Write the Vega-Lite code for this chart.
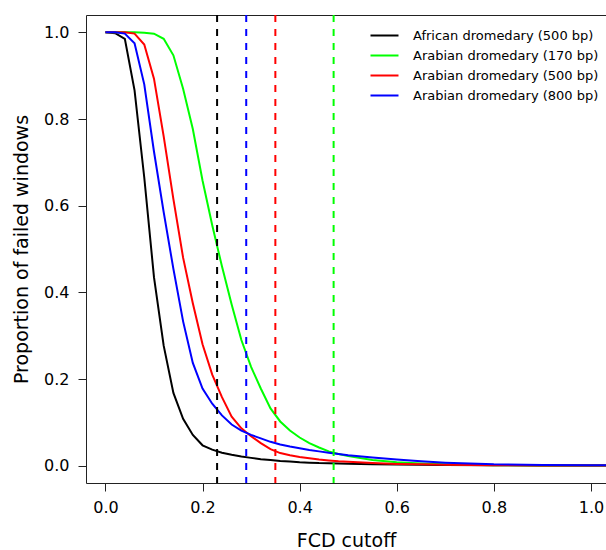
{
  "$schema": "https://vega.github.io/schema/vega-lite/v6.json",
  "autosize": {"type": "none"},
  "width": 520,
  "height": 468,
  "padding": {"left": 86, "top": 15, "right": 0, "bottom": 67},
  "config": {
    "font": "DejaVu Sans",
    "view": {"stroke": null},
    "axis": {"grid": false, "domainColor": "#222", "tickColor": "#222", "labelColor": "#000", "titleColor": "#000", "domainWidth": 1, "tickWidth": 1, "titleFontWeight": "normal", "labelFontSize": 16, "titleFontSize": 19, "tickSize": 8}
  },
  "datasets": {
    "curves": [
      {"x":0,"y":1,"series":"African dromedary (500 bp)"},
      {"x":0.02,"y":0.998,"series":"African dromedary (500 bp)"},
      {"x":0.04,"y":0.985,"series":"African dromedary (500 bp)"},
      {"x":0.06,"y":0.866,"series":"African dromedary (500 bp)"},
      {"x":0.08,"y":0.665,"series":"African dromedary (500 bp)"},
      {"x":0.10,"y":0.435,"series":"African dromedary (500 bp)"},
      {"x":0.12,"y":0.277,"series":"African dromedary (500 bp)"},
      {"x":0.14,"y":0.168,"series":"African dromedary (500 bp)"},
      {"x":0.16,"y":0.108,"series":"African dromedary (500 bp)"},
      {"x":0.18,"y":0.071,"series":"African dromedary (500 bp)"},
      {"x":0.20,"y":0.047,"series":"African dromedary (500 bp)"},
      {"x":0.22,"y":0.037,"series":"African dromedary (500 bp)"},
      {"x":0.24,"y":0.030,"series":"African dromedary (500 bp)"},
      {"x":0.26,"y":0.025,"series":"African dromedary (500 bp)"},
      {"x":0.28,"y":0.021,"series":"African dromedary (500 bp)"},
      {"x":0.30,"y":0.018,"series":"African dromedary (500 bp)"},
      {"x":0.32,"y":0.015,"series":"African dromedary (500 bp)"},
      {"x":0.34,"y":0.013,"series":"African dromedary (500 bp)"},
      {"x":0.36,"y":0.011,"series":"African dromedary (500 bp)"},
      {"x":0.38,"y":0.0095,"series":"African dromedary (500 bp)"},
      {"x":0.40,"y":0.008,"series":"African dromedary (500 bp)"},
      {"x":0.42,"y":0.007,"series":"African dromedary (500 bp)"},
      {"x":0.44,"y":0.006,"series":"African dromedary (500 bp)"},
      {"x":0.46,"y":0.0055,"series":"African dromedary (500 bp)"},
      {"x":0.48,"y":0.005,"series":"African dromedary (500 bp)"},
      {"x":0.50,"y":0.0045,"series":"African dromedary (500 bp)"},
      {"x":0.55,"y":0.0035,"series":"African dromedary (500 bp)"},
      {"x":0.60,"y":0.0025,"series":"African dromedary (500 bp)"},
      {"x":0.65,"y":0.002,"series":"African dromedary (500 bp)"},
      {"x":0.70,"y":0.0015,"series":"African dromedary (500 bp)"},
      {"x":0.80,"y":0.001,"series":"African dromedary (500 bp)"},
      {"x":0.90,"y":0.0005,"series":"African dromedary (500 bp)"},
      {"x":1.00,"y":0.0003,"series":"African dromedary (500 bp)"},
      {"x":1.04,"y":0.0003,"series":"African dromedary (500 bp)"},

      {"x":0,"y":1,"series":"Arabian dromedary (170 bp)"},
      {"x":0.02,"y":1,"series":"Arabian dromedary (170 bp)"},
      {"x":0.04,"y":1,"series":"Arabian dromedary (170 bp)"},
      {"x":0.06,"y":1,"series":"Arabian dromedary (170 bp)"},
      {"x":0.08,"y":0.999,"series":"Arabian dromedary (170 bp)"},
      {"x":0.10,"y":0.997,"series":"Arabian dromedary (170 bp)"},
      {"x":0.12,"y":0.985,"series":"Arabian dromedary (170 bp)"},
      {"x":0.14,"y":0.947,"series":"Arabian dromedary (170 bp)"},
      {"x":0.16,"y":0.87,"series":"Arabian dromedary (170 bp)"},
      {"x":0.18,"y":0.777,"series":"Arabian dromedary (170 bp)"},
      {"x":0.20,"y":0.658,"series":"Arabian dromedary (170 bp)"},
      {"x":0.22,"y":0.555,"series":"Arabian dromedary (170 bp)"},
      {"x":0.24,"y":0.46,"series":"Arabian dromedary (170 bp)"},
      {"x":0.26,"y":0.372,"series":"Arabian dromedary (170 bp)"},
      {"x":0.28,"y":0.29,"series":"Arabian dromedary (170 bp)"},
      {"x":0.30,"y":0.228,"series":"Arabian dromedary (170 bp)"},
      {"x":0.32,"y":0.178,"series":"Arabian dromedary (170 bp)"},
      {"x":0.34,"y":0.132,"series":"Arabian dromedary (170 bp)"},
      {"x":0.36,"y":0.102,"series":"Arabian dromedary (170 bp)"},
      {"x":0.38,"y":0.081,"series":"Arabian dromedary (170 bp)"},
      {"x":0.40,"y":0.065,"series":"Arabian dromedary (170 bp)"},
      {"x":0.42,"y":0.052,"series":"Arabian dromedary (170 bp)"},
      {"x":0.44,"y":0.042,"series":"Arabian dromedary (170 bp)"},
      {"x":0.46,"y":0.033,"series":"Arabian dromedary (170 bp)"},
      {"x":0.48,"y":0.027,"series":"Arabian dromedary (170 bp)"},
      {"x":0.50,"y":0.022,"series":"Arabian dromedary (170 bp)"},
      {"x":0.55,"y":0.013,"series":"Arabian dromedary (170 bp)"},
      {"x":0.60,"y":0.008,"series":"Arabian dromedary (170 bp)"},
      {"x":0.65,"y":0.005,"series":"Arabian dromedary (170 bp)"},
      {"x":0.70,"y":0.003,"series":"Arabian dromedary (170 bp)"},
      {"x":0.80,"y":0.001,"series":"Arabian dromedary (170 bp)"},
      {"x":0.90,"y":0.0005,"series":"Arabian dromedary (170 bp)"},
      {"x":1.00,"y":0.0002,"series":"Arabian dromedary (170 bp)"},
      {"x":1.04,"y":0.0002,"series":"Arabian dromedary (170 bp)"},

      {"x":0,"y":1,"series":"Arabian dromedary (500 bp)"},
      {"x":0.02,"y":1,"series":"Arabian dromedary (500 bp)"},
      {"x":0.04,"y":1,"series":"Arabian dromedary (500 bp)"},
      {"x":0.06,"y":0.997,"series":"Arabian dromedary (500 bp)"},
      {"x":0.08,"y":0.972,"series":"Arabian dromedary (500 bp)"},
      {"x":0.10,"y":0.893,"series":"Arabian dromedary (500 bp)"},
      {"x":0.12,"y":0.76,"series":"Arabian dromedary (500 bp)"},
      {"x":0.14,"y":0.615,"series":"Arabian dromedary (500 bp)"},
      {"x":0.16,"y":0.48,"series":"Arabian dromedary (500 bp)"},
      {"x":0.18,"y":0.375,"series":"Arabian dromedary (500 bp)"},
      {"x":0.20,"y":0.28,"series":"Arabian dromedary (500 bp)"},
      {"x":0.22,"y":0.21,"series":"Arabian dromedary (500 bp)"},
      {"x":0.24,"y":0.158,"series":"Arabian dromedary (500 bp)"},
      {"x":0.26,"y":0.113,"series":"Arabian dromedary (500 bp)"},
      {"x":0.28,"y":0.086,"series":"Arabian dromedary (500 bp)"},
      {"x":0.30,"y":0.068,"series":"Arabian dromedary (500 bp)"},
      {"x":0.32,"y":0.052,"series":"Arabian dromedary (500 bp)"},
      {"x":0.34,"y":0.038,"series":"Arabian dromedary (500 bp)"},
      {"x":0.36,"y":0.029,"series":"Arabian dromedary (500 bp)"},
      {"x":0.38,"y":0.024,"series":"Arabian dromedary (500 bp)"},
      {"x":0.40,"y":0.020,"series":"Arabian dromedary (500 bp)"},
      {"x":0.42,"y":0.017,"series":"Arabian dromedary (500 bp)"},
      {"x":0.44,"y":0.014,"series":"Arabian dromedary (500 bp)"},
      {"x":0.46,"y":0.012,"series":"Arabian dromedary (500 bp)"},
      {"x":0.48,"y":0.010,"series":"Arabian dromedary (500 bp)"},
      {"x":0.50,"y":0.009,"series":"Arabian dromedary (500 bp)"},
      {"x":0.55,"y":0.006,"series":"Arabian dromedary (500 bp)"},
      {"x":0.60,"y":0.004,"series":"Arabian dromedary (500 bp)"},
      {"x":0.65,"y":0.003,"series":"Arabian dromedary (500 bp)"},
      {"x":0.70,"y":0.002,"series":"Arabian dromedary (500 bp)"},
      {"x":0.80,"y":0.001,"series":"Arabian dromedary (500 bp)"},
      {"x":0.90,"y":0.0005,"series":"Arabian dromedary (500 bp)"},
      {"x":1.00,"y":0.0003,"series":"Arabian dromedary (500 bp)"},
      {"x":1.04,"y":0.0003,"series":"Arabian dromedary (500 bp)"},

      {"x":0,"y":1,"series":"Arabian dromedary (800 bp)"},
      {"x":0.02,"y":1,"series":"Arabian dromedary (800 bp)"},
      {"x":0.04,"y":0.997,"series":"Arabian dromedary (800 bp)"},
      {"x":0.06,"y":0.975,"series":"Arabian dromedary (800 bp)"},
      {"x":0.08,"y":0.88,"series":"Arabian dromedary (800 bp)"},
      {"x":0.10,"y":0.725,"series":"Arabian dromedary (800 bp)"},
      {"x":0.12,"y":0.585,"series":"Arabian dromedary (800 bp)"},
      {"x":0.14,"y":0.454,"series":"Arabian dromedary (800 bp)"},
      {"x":0.16,"y":0.333,"series":"Arabian dromedary (800 bp)"},
      {"x":0.18,"y":0.237,"series":"Arabian dromedary (800 bp)"},
      {"x":0.20,"y":0.178,"series":"Arabian dromedary (800 bp)"},
      {"x":0.22,"y":0.143,"series":"Arabian dromedary (800 bp)"},
      {"x":0.24,"y":0.116,"series":"Arabian dromedary (800 bp)"},
      {"x":0.26,"y":0.095,"series":"Arabian dromedary (800 bp)"},
      {"x":0.28,"y":0.081,"series":"Arabian dromedary (800 bp)"},
      {"x":0.30,"y":0.071,"series":"Arabian dromedary (800 bp)"},
      {"x":0.32,"y":0.063,"series":"Arabian dromedary (800 bp)"},
      {"x":0.34,"y":0.055,"series":"Arabian dromedary (800 bp)"},
      {"x":0.36,"y":0.049,"series":"Arabian dromedary (800 bp)"},
      {"x":0.38,"y":0.044,"series":"Arabian dromedary (800 bp)"},
      {"x":0.40,"y":0.040,"series":"Arabian dromedary (800 bp)"},
      {"x":0.42,"y":0.036,"series":"Arabian dromedary (800 bp)"},
      {"x":0.44,"y":0.033,"series":"Arabian dromedary (800 bp)"},
      {"x":0.46,"y":0.030,"series":"Arabian dromedary (800 bp)"},
      {"x":0.48,"y":0.027,"series":"Arabian dromedary (800 bp)"},
      {"x":0.50,"y":0.024,"series":"Arabian dromedary (800 bp)"},
      {"x":0.55,"y":0.019,"series":"Arabian dromedary (800 bp)"},
      {"x":0.60,"y":0.014,"series":"Arabian dromedary (800 bp)"},
      {"x":0.65,"y":0.010,"series":"Arabian dromedary (800 bp)"},
      {"x":0.70,"y":0.007,"series":"Arabian dromedary (800 bp)"},
      {"x":0.80,"y":0.003,"series":"Arabian dromedary (800 bp)"},
      {"x":0.90,"y":0.0015,"series":"Arabian dromedary (800 bp)"},
      {"x":1.00,"y":0.001,"series":"Arabian dromedary (800 bp)"},
      {"x":1.04,"y":0.001,"series":"Arabian dromedary (800 bp)"}
    ],
    "cutoffs": [
      {"x":0.23,"series":"African dromedary (500 bp)"},
      {"x":0.47,"series":"Arabian dromedary (170 bp)"},
      {"x":0.35,"series":"Arabian dromedary (500 bp)"},
      {"x":0.29,"series":"Arabian dromedary (800 bp)"}
    ]
  },
  "layer": [
    {
      "data": {"name": "curves"},
      "mark": {"type": "line", "strokeWidth": 2, "clip": true},
      "encoding": {
        "x": {"field": "x", "type": "quantitative", "scale": {"domain": [-0.04, 1.031], "nice": false, "zero": false},
              "axis": {"orient": "bottom", "values": [0, 0.2, 0.4, 0.6, 0.8, 1.0], "format": ".1f", "title": "FCD cutoff", "labelPadding": 8, "titlePadding": 16}},
        "y": {"field": "y", "type": "quantitative", "scale": {"domain": [-0.04, 1.04], "nice": false, "zero": false},
              "axis": {"values": [0, 0.2, 0.4, 0.6, 0.8, 1.0], "format": ".1f", "title": "Proportion of failed windows", "labelPadding": 9, "titlePadding": 12}},
        "color": {"field": "series", "type": "nominal",
                  "scale": {"domain": ["African dromedary (500 bp)", "Arabian dromedary (170 bp)", "Arabian dromedary (500 bp)", "Arabian dromedary (800 bp)"],
                            "range": ["#000000", "#00ff00", "#ff0000", "#0000ff"]},
                  "legend": {"orient": "none", "legendX": 292, "legendY": 14, "title": null,
                             "symbolType": "M-4.667,0H4.667", "symbolSize": 36, "symbolStrokeWidth": 2,
                             "labelFontSize": 13, "labelOffset": 22, "labelLimit": 400, "rowPadding": 6, "labelColor": "#000"}}
      }
    },
    {
      "data": {"name": "cutoffs"},
      "mark": {"type": "rule", "strokeWidth": 2, "strokeDash": [7, 7]},
      "encoding": {
        "x": {"field": "x", "type": "quantitative",
              "axis": {"orient": "top", "labels": false, "ticks": false, "title": null, "domain": true}},
        "color": {"field": "series", "type": "nominal", "legend": null}
      }
    }
  ],
  "resolve": {"axis": {"x": "independent"}}
}
